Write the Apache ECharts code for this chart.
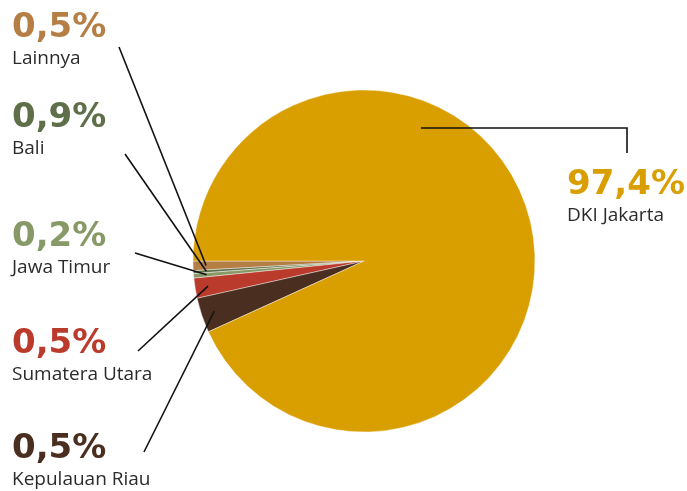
<!DOCTYPE html>
<html>
<head>
<meta charset="utf-8">
<script src="https://cdn.jsdelivr.net/npm/echarts@6/dist/echarts.min.js"></script>
<style>html,body{margin:0;padding:0;background:#fff}#c{width:687px;height:491px}</style>
</head>
<body>
<div id="c"></div>
<script>
const names = ['Lainnya', 'Bali', 'Jawa Timur', 'Sumatera Utara', 'Kepulauan Riau', 'DKI Jakarta'];
const sliceValues = [0.9, 0.28, 0.42, 1.9, 3.3, 93.2];
const shownPercents = ['0,5%', '0,9%', '0,2%', '0,5%', '0,5%', '97,4%'];
const colors = ['#B47E45', '#5E6F49', '#879966', '#BA3A2B', '#4A2E20', '#D99E00'];

// Layout (positions/styles only)
const CX = 364, CY = 261, R = 171;
const labelPos = [[12, 8], [12, 98], [12, 217], [12, 324], [12, 429], [567, 165]];
const lineEnds = [[119, 47], [125, 154], [135, 253], [138, 351], [144, 452]];
const dkiLine = [[421, 128], [627, 128], [627, 153]];

const pieBase = {
  type: 'pie',
  center: [CX, CY],
  radius: R,
  startAngle: 180,
  clockwise: false,
  avoidLabelOverlap: false,
  animation: false,
  emphasis: { disabled: true }
};

const chart = echarts.init(document.getElementById('c'));
chart.setOption({
  animation: false,
  series: [
    Object.assign({}, pieBase, {
      z: 2,
      itemStyle: { borderColor: 'rgba(255,255,255,0.7)', borderWidth: 0.6 },
      label: { show: false },
      labelLine: { show: false },
      data: names.map((n, i) => ({ name: n, value: sliceValues[i], itemStyle: { color: colors[i] } }))
    }),
    Object.assign({}, pieBase, {
      z: 3,
      silent: true,
      itemStyle: { color: 'rgba(0,0,0,0)', borderWidth: 0 },
      label: {
        show: true,
        position: 'outside',
        formatter: p => '{p|' + shownPercents[p.dataIndex] + '}\n{n|' + p.name + '}',
        rich: {
          p: { fontSize: 34, fontWeight: 'bold', fontFamily: 'DejaVu Sans', lineHeight: 40 },
          n: { fontSize: 19, fontFamily: 'Open Sans', color: '#2b2b2b', lineHeight: 22 }
        }
      },
      labelLine: { show: true, lineStyle: { color: '#111', width: 1.6 } },
      labelLayout: function (params) {
        const i = params.dataIndex;
        let pts;
        if (i === 5) {
          pts = dkiLine;
        } else {
          const p0 = params.labelLinePoints[0];
          const k = 158 / R;
          const s = [CX + (p0[0] - CX) * k, CY + (p0[1] - CY) * k];
          pts = [s, lineEnds[i], lineEnds[i]];
        }
        return {
          x: labelPos[i][0], y: labelPos[i][1],
          align: 'left', verticalAlign: 'top',
          labelLinePoints: pts
        };
      },
      data: names.map((n, i) => ({ name: n, value: sliceValues[i], label: { color: colors[i] } }))
    })
  ]
});
</script>
</body>
</html>
